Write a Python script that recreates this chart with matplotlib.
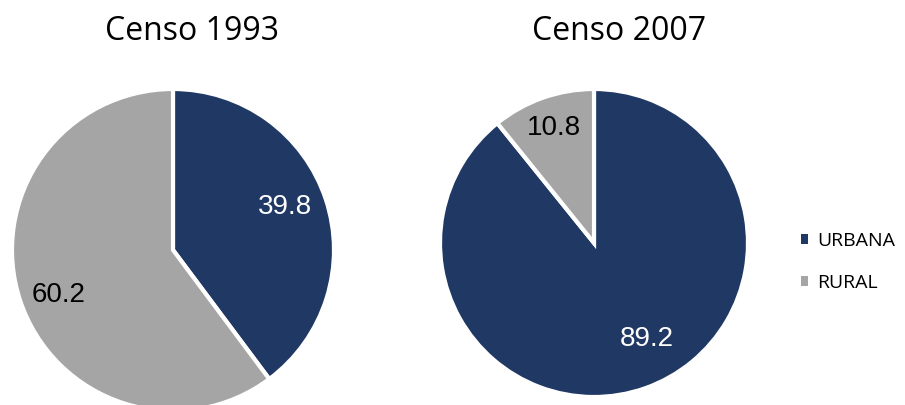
import matplotlib
matplotlib.use("Agg")
import matplotlib.pyplot as plt
import numpy as np
from matplotlib.patches import Patch

titles = ["Censo 1993", "Censo 2007"]
categories = ["URBANA", "RURAL"]
urbana = [39.8, 89.2]
rural = [60.2, 10.8]
colors = ["#203864", "#A5A5A5"]
label_colors = ["white", "black"]

W, H = 905, 405
fig = plt.figure(figsize=(W / 100, H / 100), dpi=100)

# pie geometry in pixels: (center x, center y from top, radius)
geoms = [(173, 250, 161), (594, 243, 154)]
title_x = [192, 619]
# label placement: (distance, angle in degrees) per wedge for each pie
label_pos = [[(0.745, 21.0), (0.761, 201.5)], [(0.708, -61.2), (0.789, 109.5)]]

for i, (cx, cy, r) in enumerate(geoms):
    ax = fig.add_axes([(cx - r) / W, (H - cy - r) / H, 2 * r / W, 2 * r / H])
    vals = [urbana[i], rural[i]]
    ax.pie(vals, colors=colors, startangle=90, counterclock=False,
           radius=1, wedgeprops=dict(edgecolor="white", linewidth=3))
    for j, v in enumerate(vals):
        d, a = label_pos[i][j]
        ax.text(d * np.cos(np.radians(a)), d * np.sin(np.radians(a)),
                f"{v:.1f}", ha="center", va="center", fontsize=20,
                color=label_colors[j], family="Liberation Sans")
    ax.set_xlim(-1, 1)
    ax.set_ylim(-1, 1)
    ax.set_aspect("equal")
    ax.axis("off")
    fig.text(title_x[i] / W, 1 - 31 / H, titles[i], ha="center", va="center",
             fontsize=23, family="Open Sans")

handles = [Patch(facecolor=c, edgecolor="none") for c in colors]
fig.legend(handles, categories, loc="center left",
           bbox_to_anchor=(783 / W, 1 - 262 / H), frameon=False,
           prop=dict(family="Open Sans", size=14), handlelength=0.4,
           handleheight=0.4, handletextpad=0.45, labelspacing=1.2)

fig.savefig("out.png", dpi=100)
